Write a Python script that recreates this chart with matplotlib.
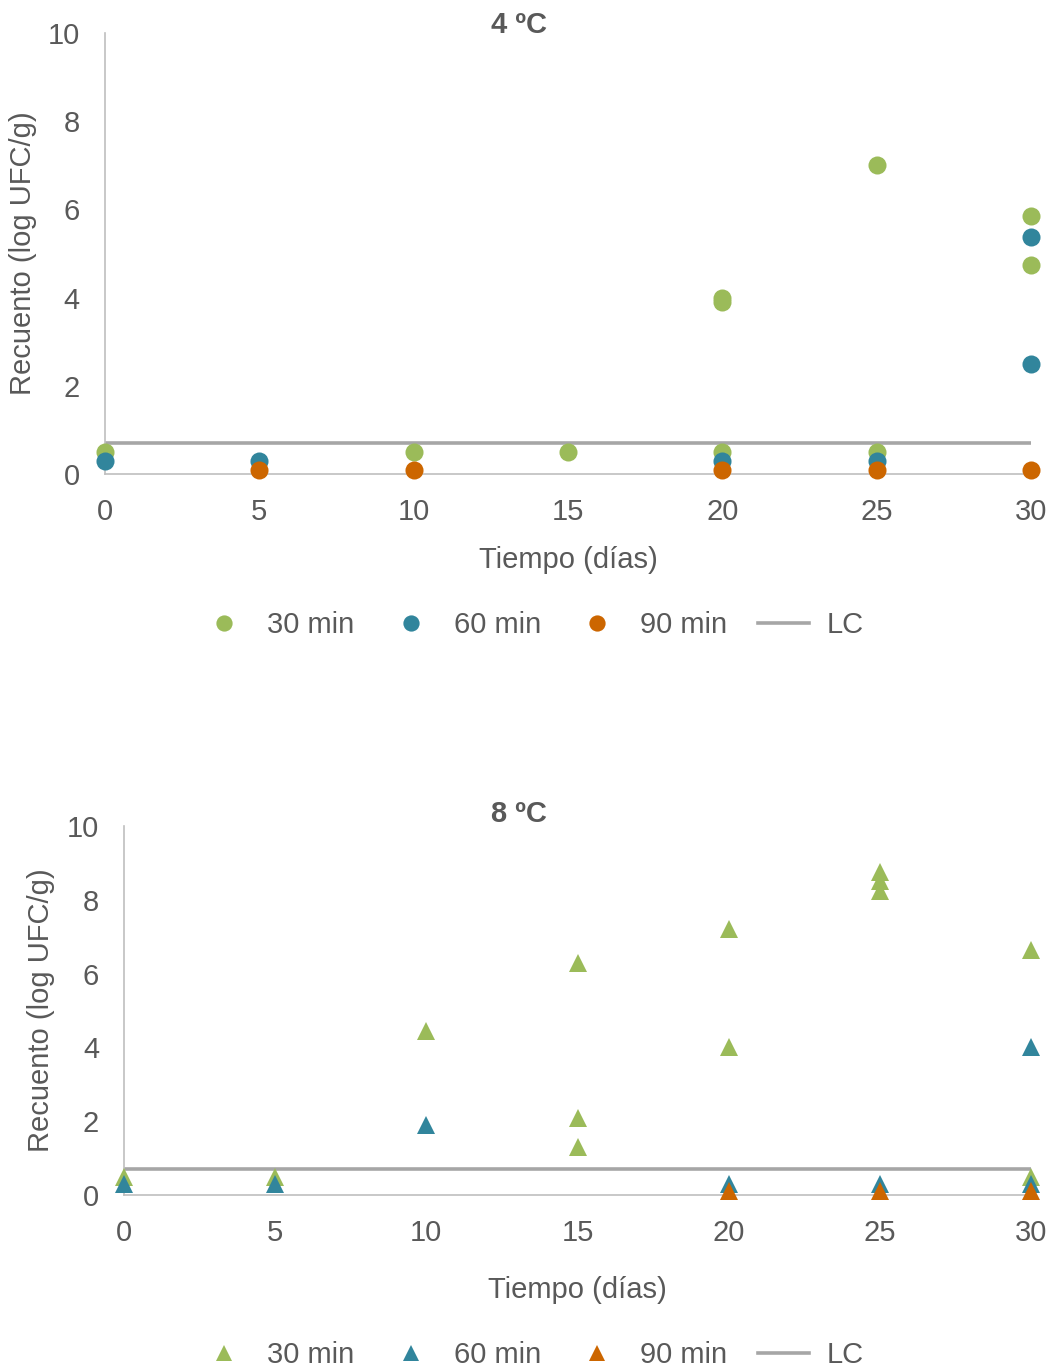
import matplotlib
matplotlib.use('Agg')
import matplotlib.pyplot as plt

plt.rcParams['font.family'] = ['Liberation Sans', 'DejaVu Sans']

# 4 ºC
x4_30 = [0, 10, 15, 20, 20, 20, 25, 25, 30, 30]
y4_30 = [0.5, 0.5, 0.5, 4.0, 3.9, 0.5, 7.0, 0.5, 5.85, 4.75]
x4_60 = [0, 5, 20, 25, 30, 30]
y4_60 = [0.3, 0.3, 0.3, 0.3, 5.37, 2.5]
x4_90 = [5, 10, 20, 25, 30]
y4_90 = [0.1, 0.1, 0.1, 0.1, 0.1]

# 8 ºC
x8_30 = [0, 5, 10, 15, 15, 15, 20, 20, 25, 25, 25, 30, 30]
y8_30 = [0.5, 0.5, 4.45, 6.3, 2.1, 1.3, 7.2, 4.0, 8.75, 8.5, 8.25, 6.65, 0.5]
x8_60 = [0, 5, 10, 20, 25, 30, 30]
y8_60 = [0.3, 0.3, 1.9, 0.3, 0.3, 4.0, 0.3]
x8_90 = [20, 25, 30]
y8_90 = [0.1, 0.1, 0.1]

lc_x = [0, 30]
lc_y = [0.7, 0.7]

labels = ['30 min', '60 min', '90 min', 'LC']
colors = ['#9BBB59', '#31859C', '#CC6600']
lc_color = '#A6A6A6'
txt = '#595959'
fs = 21


def style_axes(ax, xlabelpad):
    ax.set_xlim(0, 30)
    ax.set_ylim(0, 10)
    ax.set_xticks(range(0, 31, 5))
    ax.set_yticks(range(0, 11, 2))
    for s in ['top', 'right']:
        ax.spines[s].set_visible(False)
    for s in ['left', 'bottom']:
        ax.spines[s].set_color('#BFBFBF')
        ax.spines[s].set_linewidth(1.2)
    ax.tick_params(length=0, labelsize=fs, colors=txt)
    ax.tick_params(axis='y', pad=18)
    ax.tick_params(axis='x', pad=17)
    ax.set_xlabel('Tiempo (días)', fontsize=fs, color=txt, labelpad=xlabelpad)
    ax.set_ylabel('Recuento (log UFC/g)', fontsize=fs, color=txt)


def draw(ax, series, marker, ms):
    handles = []
    for (xs, ys), c, lab in zip(series, colors, labels):
        h, = ax.plot(xs, ys, linestyle='none', marker=marker, markersize=ms,
                     color=c, markeredgewidth=0, clip_on=False, zorder=3, label=lab)
        handles.append(h)
    lc, = ax.plot(lc_x, lc_y, color=lc_color, linewidth=2.6, zorder=2, label='LC')
    handles.append(lc)
    return handles


def add_legend(handles, y):
    fig.legend(handles=handles, loc='center', bbox_to_anchor=(531 / 1055, 1 - y / 1371),
               ncol=4, frameon=False, fontsize=fs, labelcolor=txt, markerscale=0.9,
               handlelength=1.75, handletextpad=0.6, columnspacing=1.05)


fig = plt.figure(figsize=(10.55, 13.71), dpi=100)

ax1 = fig.add_axes([105 / 1055, 1 - 474 / 1371, 926 / 1055, 441 / 1371])
h1 = draw(ax1, [(x4_30, y4_30), (x4_60, y4_60), (x4_90, y4_90)], 'o', 13)
style_axes(ax1, 15)
ax1.yaxis.set_label_coords(-0.073, 0.5)
fig.text(519 / 1055, 1 - 25 / 1371, '4 ºC', ha='center', va='center',
         fontsize=fs, fontweight='bold', color=txt)
add_legend(h1, 625)

ax2 = fig.add_axes([124 / 1055, 1 - 1195 / 1371, 907 / 1055, 369 / 1371])
h2 = draw(ax2, [(x8_30, y8_30), (x8_60, y8_60), (x8_90, y8_90)], '^', 12.5)
style_axes(ax2, 21)
ax2.yaxis.set_label_coords(-0.076, 0.5)
fig.text(519 / 1055, 1 - 814 / 1371, '8 ºC', ha='center', va='center',
         fontsize=fs, fontweight='bold', color=txt)
add_legend(h2, 1355)

fig.savefig('out.png', dpi=100)
